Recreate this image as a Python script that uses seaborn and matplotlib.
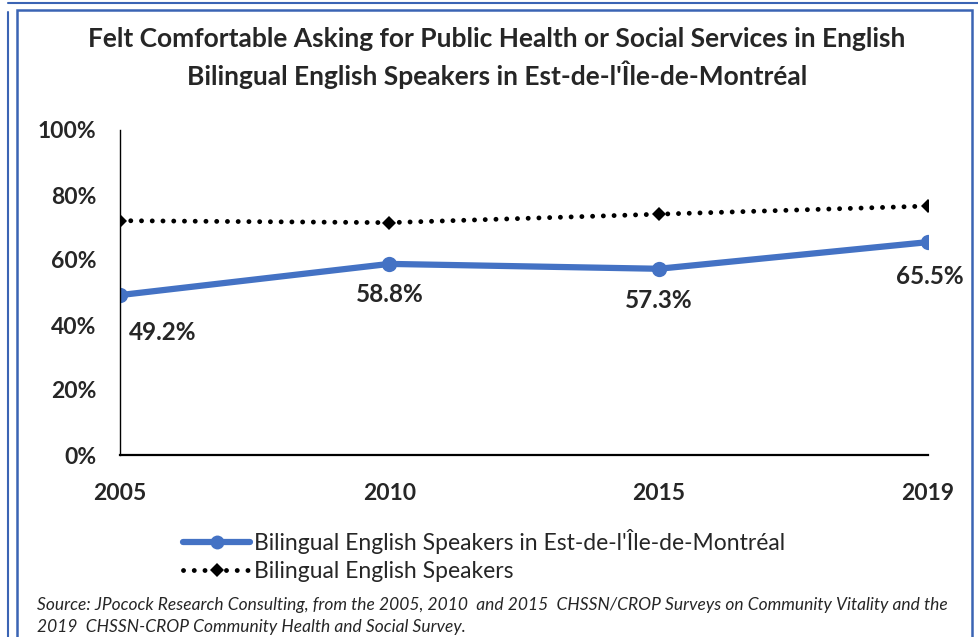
import pandas as pd
import numpy as np
import seaborn as sns
import matplotlib.pyplot as plt
from matplotlib.patches import Rectangle
from matplotlib.lines import Line2D

# chart data
years = ["2005", "2010", "2015", "2019"]
est_montreal = [49.2, 58.8, 57.3, 65.5]
bilingual_all = [72.1, 71.5, 74.1, 76.6]
series_names = ["Bilingual English Speakers in Est-de-l'Île-de-Montréal",
                "Bilingual English Speakers"]
y_ticks = [0, 20, 40, 60, 80, 100]

title = ("Felt Comfortable Asking for Public Health or Social Services in English\n"
         "Bilingual English Speakers in Est-de-l'Île-de-Montréal")
source = ("Source: JPocock Research Consulting, from the 2005, 2010  and 2015  CHSSN/CROP Surveys on Community Vitality and the\n"
          "2019  CHSSN-CROP Community Health and Social Survey.")

BLUE = "#4472C4"
FRAME = "#3B64B4"
DOTS = (0, (0.01, 2.2))


def build_frame():
    df = pd.DataFrame({
        "year": years * 2,
        "pos": list(range(len(years))) * 2,
        "value": est_montreal + bilingual_all,
        "series": [series_names[0]] * 4 + [series_names[1]] * 4,
    })
    return df


def main():
    df = build_frame()
    sns.set_style("white")
    plt.rcParams['font.family'] = ['Lato', 'DejaVu Sans']

    W, H = 979, 637
    fig = plt.figure(figsize=(W / 100, H / 100), dpi=100)
    ax = fig.add_axes([120 / W, 1 - 455 / H, (928 - 120) / W, (455 - 130) / H])

    # dotted black series first so the blue one sits on top
    sub = df[df["series"] == series_names[1]]
    sns.lineplot(data=sub, x="pos", y="value", ax=ax, color="black",
                 linewidth=3.5, marker="D", markersize=7, markeredgewidth=0,
                 legend=False)
    ax.lines[-1].set_linestyle(DOTS)
    ax.lines[-1].set_dash_capstyle("round")

    sub = df[df["series"] == series_names[0]]
    sns.lineplot(data=sub, x="pos", y="value", ax=ax, color=BLUE,
                 linewidth=4.5, marker="o", markersize=11, markeredgewidth=0,
                 legend=False)

    # data labels
    offsets = [(43, -37), (0, -31), (0, -32), (2, -34)]
    for i, v in enumerate(est_montreal):
        ax.annotate(f"{v}%", (i, v), xytext=offsets[i], textcoords="offset pixels",
                    ha="center", va="center", fontsize=17.5, fontweight="bold")

    ax.set_xlim(0, len(years) - 1)
    ax.set_ylim(0, 100)
    ax.set_xticks(range(len(years)))
    ax.set_xticklabels(years, fontsize=16.5, fontweight="bold")
    ax.set_yticks(y_ticks)
    ax.set_yticklabels([f"{t}%" for t in y_ticks], fontsize=16.5, fontweight="bold")
    ax.tick_params(axis="y", length=0, pad=17)
    ax.tick_params(axis="x", length=5, width=1.5, direction="out", pad=15, color="black")
    ax.set_xlabel("")
    ax.set_ylabel("")
    for s in ["top", "right"]:
        ax.spines[s].set_visible(False)
    ax.spines["left"].set_color("black")
    ax.spines["left"].set_linewidth(1)
    ax.spines["bottom"].set_color("black")
    ax.spines["bottom"].set_linewidth(1.6)
    ax.grid(False)

    fig.text(497 / W, 1 - 58 / H, title, ha="center", va="center",
             fontsize=19, fontweight="bold", linespacing=1.35)

    handles = [
        Line2D([], [], color=BLUE, lw=4.5, marker="o", markersize=10, markeredgewidth=0),
        Line2D([], [], color="black", lw=3.5, marker="D", markersize=7, markeredgewidth=0,
               linestyle=DOTS, dash_capstyle="round"),
    ]
    fig.legend(handles, series_names, loc="upper left",
               bbox_to_anchor=(172 / W, 1 - 518 / H), frameon=False,
               fontsize=16.5, handlelength=2.9, handletextpad=0.2, labelspacing=0.3,
               borderpad=0)

    fig.text(37 / W, 1 - 616 / H, source, ha="left", va="center", fontsize=12.5,
             style="italic", linespacing=1.5)

    # outer frame
    fig.add_artist(Rectangle((17 / W, -0.05), (972 - 17) / W, 1.05 - 10 / H,
                             transform=fig.transFigure, fill=False,
                             edgecolor=FRAME, linewidth=1.8))
    fig.add_artist(Line2D([8 / W, 8 / W], [0, 1 - 12 / H], transform=fig.transFigure,
                          color=FRAME, linewidth=1.5))
    fig.add_artist(Line2D([8 / W, 1], [1 - 3 / H, 1 - 3 / H], transform=fig.transFigure,
                          color=FRAME, linewidth=1.5))

    fig.savefig("out.png", dpi=100)


if __name__ == "__main__":
    main()
